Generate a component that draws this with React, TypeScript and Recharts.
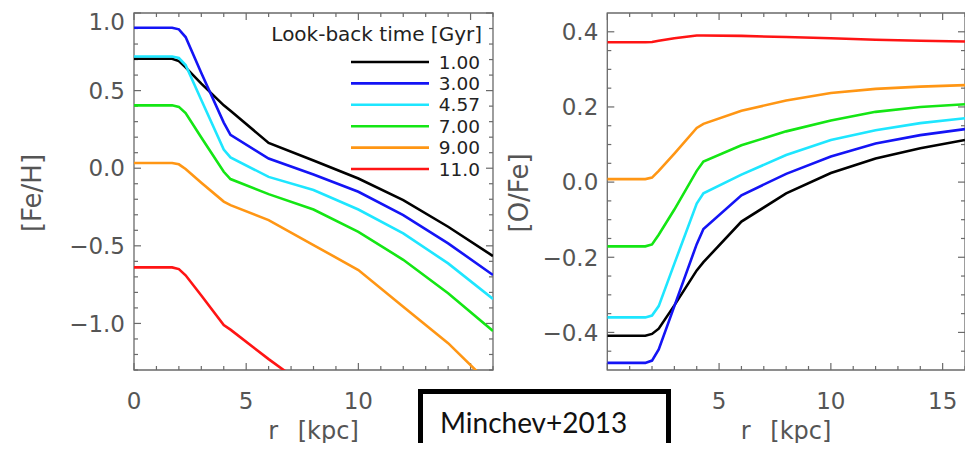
import React from 'react';
import { LineChart, Line, XAxis, YAxis, Legend, Label, ReferenceArea, ReferenceLine } from 'recharts';

// galactocentric radius [kpc]
const RADIUS = [0, 1.7, 2.0, 2.3, 3.0, 4.0, 4.3, 6, 8, 10, 12, 14, 16];

// look-back times [Gyr]
const LOOKBACK = ['1.00', '3.00', '4.57', '7.00', '9.00', '11.0'];
const COLORS = ['#000000', '#1414f5', '#1ee6ff', '#14e614', '#ff9614', '#ff1414'];

// [Fe/H] profiles
const FEH_100 = [0.705, 0.705, 0.69, 0.65, 0.545, 0.405, 0.37, 0.163, 0.05, -0.066, -0.206, -0.377, -0.566];
const FEH_300 = [0.905, 0.905, 0.895, 0.845, 0.614, 0.294, 0.215, 0.062, -0.04, -0.152, -0.302, -0.484, -0.688];
const FEH_457 = [0.72, 0.72, 0.71, 0.665, 0.44, 0.12, 0.07, -0.056, -0.14, -0.266, -0.42, -0.613, -0.842];
const FEH_700 = [0.405, 0.405, 0.395, 0.355, 0.198, -0.023, -0.07, -0.167, -0.266, -0.41, -0.59, -0.806, -1.048];
const FEH_900 = [0.034, 0.034, 0.025, -0.005, -0.093, -0.215, -0.238, -0.334, -0.495, -0.656, -0.892, -1.127, -1.41];
const FEH_110 = [-0.639, -0.639, -0.65, -0.69, -0.82, -1.01, -1.04, -1.23, -1.44, null, null, null, null];

// [O/Fe] profiles
const OFE_100 = [-0.409, -0.409, -0.404, -0.39, -0.328, -0.235, -0.213, -0.105, -0.03, 0.024, 0.063, 0.09, 0.112];
const OFE_300 = [-0.481, -0.481, -0.475, -0.445, -0.33, -0.165, -0.125, -0.035, 0.022, 0.068, 0.103, 0.125, 0.141];
const OFE_457 = [-0.36, -0.36, -0.355, -0.33, -0.217, -0.057, -0.03, 0.02, 0.072, 0.112, 0.138, 0.157, 0.17];
const OFE_700 = [-0.171, -0.171, -0.166, -0.14, -0.073, 0.03, 0.055, 0.098, 0.135, 0.164, 0.187, 0.2, 0.207];
const OFE_900 = [0.008, 0.008, 0.012, 0.03, 0.076, 0.144, 0.155, 0.19, 0.217, 0.237, 0.248, 0.254, 0.258];
const OFE_110 = [0.372, 0.372, 0.373, 0.376, 0.383, 0.39, 0.39, 0.389, 0.386, 0.383, 0.379, 0.376, 0.374];

// ticks (labels under the citation box are not shown)
const X_TICKS = [0, 1, 2, 3, 4, 5, 6, 7, 8, 9, 10, 11, 12, 13, 14, 15, 16];
const X_MAJOR = [0, 5, 10, 15];
const FEH_X_LABELS = [0, 5, 10];
const OFE_X_LABELS = [5, 10, 15];
const FEH_TICKS = [-1.3, -1.2, -1.1, -1.0, -0.9, -0.8, -0.7, -0.6, -0.5, -0.4, -0.3, -0.2, -0.1, 0, 0.1, 0.2, 0.3, 0.4, 0.5, 0.6, 0.7, 0.8, 0.9, 1.0];
const FEH_MAJOR = [-1.0, -0.5, 0, 0.5, 1.0];
const OFE_TICKS = [-0.45, -0.4, -0.35, -0.3, -0.25, -0.2, -0.15, -0.1, -0.05, 0, 0.05, 0.1, 0.15, 0.2, 0.25, 0.3, 0.35, 0.4];
const OFE_MAJOR = [-0.4, -0.2, 0, 0.2, 0.4];

const FRAME = '#6a6a6a';
const TEXT = '#555555';
const FONT = '"DejaVu Sans", sans-serif';
const PLOT_TOP = 13;
const PLOT_BOTTOM = 370;
const H = 451;
const XAXIS_H = 60;
const YAXIS_W = 90;
const X_MIN = 0;
const X_MAX = 16;

function buildRows(series: (number | null)[][]) {
  return RADIUS.map((r, i) => {
    const row: Record<string, number | null> = { r };
    series.forEach((s, k) => { row['t' + k] = s[i]; });
    return row;
  });
}

const fehRows = buildRows([FEH_100, FEH_300, FEH_457, FEH_700, FEH_900, FEH_110]);
const ofeRows = buildRows([OFE_100, OFE_300, OFE_457, OFE_700, OFE_900, OFE_110]);

const isMajor = (v: number, majors: number[]) => majors.some(m => Math.abs(m - v) < 1e-6);
const fmt = (v: number, digits: number) => (Math.abs(v) < 1e-9 ? 0 : v).toFixed(digits).replace('-', '\u2212');

function makeLabel(side: string, labels: number[], digits: number) {
  return (props: any) => {
    const { x, y, payload } = props;
    const v = payload.value;
    if (!isMajor(v, labels)) return <g />;
    if (side === 'bottom') {
      return <text x={x} y={y + 39} textAnchor="middle" fill={TEXT} fontSize={23} fontFamily={FONT}>{fmt(v, digits)}</text>;
    }
    return (
      <text x={x - 9} y={Math.max(y, 22)} dy="0.36em" textAnchor="end" fill={TEXT} fontSize={23} fontFamily={FONT}>{fmt(v, digits)}</text>
    );
  };
}

function renderLegend(props: any) {
  const payload = props.payload || [];
  return (
    <svg width={230} height={160}>
      <text x={222} y={21} textAnchor="end" fill="#222" fontSize={20} fontFamily={FONT}>Look-back time [Gyr]</text>
      {LOOKBACK.map((name, i) => {
        const item = payload.find((p: any) => p.value === name);
        const color = item ? item.color : COLORS[i];
        const ly = 42 + i * 21.4;
        return (
          <g key={name}>
            <line x1={91} x2={169} y1={ly} y2={ly} stroke={color} strokeWidth={2.6} />
            <text x={220} y={ly} dy="0.36em" textAnchor="end" fill="#222" fontSize={18.5} fontFamily={FONT}>{name}</text>
          </g>
        );
      })}
    </svg>
  );
}

interface PanelProps {
  left: number; width: number; plotLeft: number; plotRight: number;
  rows: any[]; xLabels: number[]; yDomain: number[]; yTicks: number[]; yMajor: number[];
  yTitle: string; yTitleX: number; withLegend?: boolean;
}

function Panel({ left, width, plotLeft, plotRight, rows, xLabels, yDomain, yTicks, yMajor, yTitle, yTitleX, withLegend }: PanelProps) {
  const margin = { top: PLOT_TOP, right: width - plotRight, bottom: H - PLOT_BOTTOM - XAXIS_H, left: plotLeft - YAXIS_W };
  const [yMin, yMax] = yDomain;
  // tick lengths converted from pixels to data units
  const yPerPx = (yMax - yMin) / (PLOT_BOTTOM - PLOT_TOP);
  const xPerPx = (X_MAX - X_MIN) / (plotRight - plotLeft);
  const tickProps = { stroke: FRAME, strokeWidth: 1.2, ifOverflow: 'visible' as const };

  const xTickMarks = X_TICKS.flatMap(v => {
    const len = (isMajor(v, X_MAJOR) ? 7 : 4) * yPerPx;
    return [
      <ReferenceLine key={'xb' + v} segment={[{ x: v, y: yMin }, { x: v, y: yMin + len }]} {...tickProps} />,
      <ReferenceLine key={'xt' + v} segment={[{ x: v, y: yMax }, { x: v, y: yMax - len }]} {...tickProps} />,
    ];
  });
  const yTickMarks = yTicks.flatMap(v => {
    const len = (isMajor(v, yMajor) ? 7 : 4) * xPerPx;
    return [
      <ReferenceLine key={'yl' + v} segment={[{ x: X_MIN, y: v }, { x: X_MIN + len, y: v }]} {...tickProps} />,
      <ReferenceLine key={'yr' + v} segment={[{ x: X_MAX, y: v }, { x: X_MAX - len, y: v }]} {...tickProps} />,
    ];
  });

  return (
    <div style={{ position: 'absolute', left, top: 0 }}>
      <LineChart width={width} height={H} data={rows} margin={margin}>
        <XAxis dataKey="r" type="number" domain={[X_MIN, X_MAX]} allowDataOverflow ticks={X_TICKS} interval={0}
          tickSize={0} tickMargin={0} tickLine={false} axisLine={false} height={XAXIS_H}
          tick={makeLabel('bottom', xLabels, 0)}>
          <Label content={(p: any) => (
            <text x={p.viewBox.x + p.viewBox.width / 2} y={PLOT_BOTTOM + 69} textAnchor="middle" fill={TEXT}
              fontSize={24} fontFamily={FONT} wordSpacing={12}>r [kpc]</text>
          )} />
        </XAxis>
        <YAxis type="number" domain={yDomain} allowDataOverflow ticks={yTicks} interval={0} width={YAXIS_W}
          tickSize={0} tickMargin={0} tickLine={false} axisLine={false} tick={makeLabel('left', yMajor, 1)}>
          <Label content={() => (
            <text x={yTitleX - left} y={193} textAnchor="middle" dominantBaseline="central" fill={TEXT}
              fontSize={26} fontFamily={FONT} transform={`rotate(-90 ${yTitleX - left} 193)`}>{yTitle}</text>
          )} />
        </YAxis>
        <ReferenceArea x1={X_MIN} x2={X_MAX} y1={yMin} y2={yMax} fill="none" fillOpacity={0}
          stroke={FRAME} strokeWidth={1.3} ifOverflow="visible" />
        {xTickMarks}
        {yTickMarks}
        {LOOKBACK.map((name, k) => (
          <Line key={name} dataKey={'t' + k} name={name} type="linear" stroke={COLORS[k]} strokeWidth={2.6}
            dot={false} activeDot={false} isAnimationActive={false} connectNulls={false} />
        ))}
        {withLegend && (
          <Legend content={renderLegend} layout="horizontal" verticalAlign="middle" align="center"
            wrapperStyle={{ left: 260, top: 20, width: 230, height: 160 }} />
        )}
      </LineChart>
    </div>
  );
}

export default function App() {
  return (
    <div style={{ position: 'relative', width: 973, height: H, margin: -8, overflow: 'hidden', background: '#fff' }}>
      <Panel left={0} width={500} plotLeft={134} plotRight={493} rows={fehRows} xLabels={FEH_X_LABELS}
        yDomain={[-1.3, 1.0]} yTicks={FEH_TICKS} yMajor={FEH_MAJOR} yTitle="[Fe/H]" yTitleX={32} withLegend />
      <Panel left={500} width={473} plotLeft={107.3} plotRight={465} rows={ofeRows} xLabels={OFE_X_LABELS}
        yDomain={[-0.5, 0.45]} yTicks={OFE_TICKS} yMajor={OFE_MAJOR} yTitle="[O/Fe]" yTitleX={519} />
      <div style={{ position: 'absolute', left: 967, top: 0, width: 1.5, height: H, background: '#9a9a9a' }} />
      <div style={{
        position: 'absolute', left: 418, top: 389, width: 253, height: 80, boxSizing: 'border-box',
        border: '5px solid #000', background: '#fff', paddingLeft: 17, paddingTop: 14,
        fontFamily: 'Lato, sans-serif', fontSize: 28, lineHeight: '28px', color: '#111'
      }}>Minchev+2013</div>
    </div>
  );
}
